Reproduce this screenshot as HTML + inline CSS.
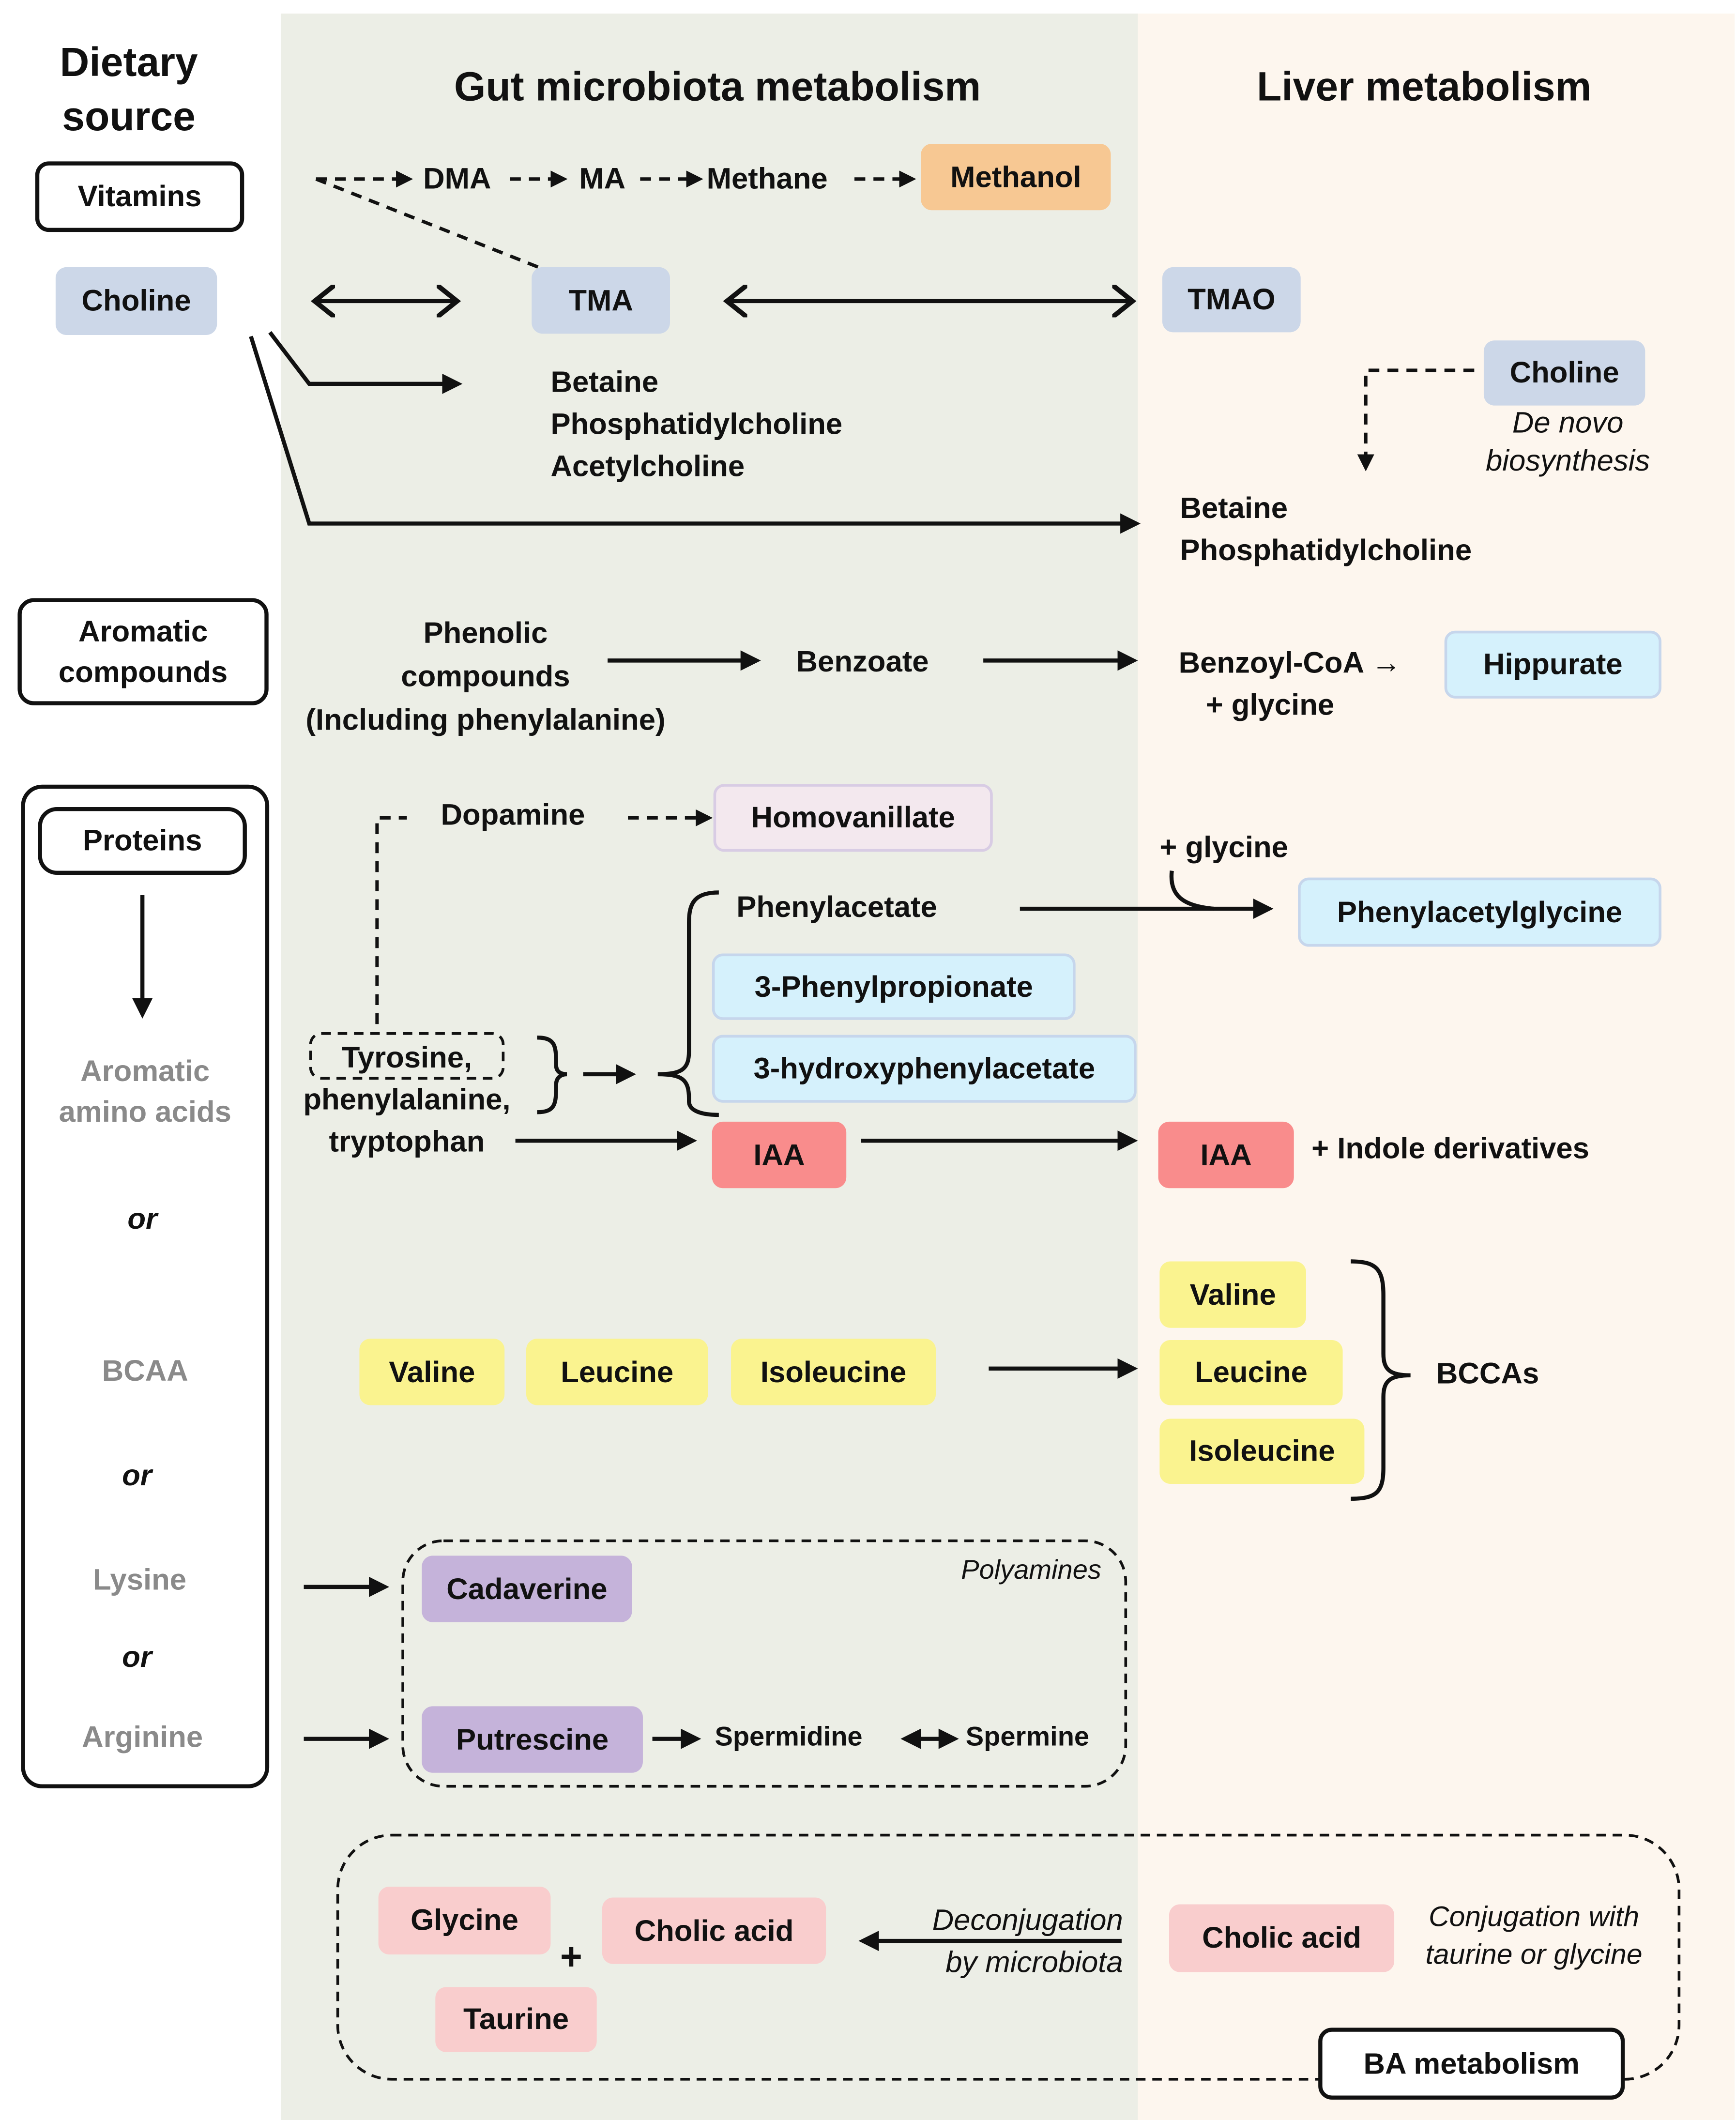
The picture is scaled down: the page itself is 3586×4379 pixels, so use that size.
<!DOCTYPE html>
<html><head><meta charset="utf-8"><style>
html,body{margin:0;padding:0;background:#fff;}
#wrap{width:3586px;height:4379px;overflow:hidden;position:relative;}
#c{position:absolute;left:0;top:0;width:1280px;height:1564px;transform:scale(2.8016);transform-origin:0 0;font-family:"Liberation Sans",sans-serif;font-weight:bold;color:#111;}
.t{position:absolute;font-size:22px;white-space:nowrap;line-height:1;}
.b{position:absolute;border-radius:8px;display:flex;align-items:center;justify-content:center;font-size:22px;white-space:nowrap;box-sizing:border-box;}
.h{position:absolute;font-size:30px;white-space:nowrap;line-height:1;}
.g{color:#8a8a8a;}
.i{font-style:italic;font-weight:normal;}
.blue{background:#ccd7e8;}
.lb{background:#d5f1fc;border:2px solid #c6d6ec;}
.y{background:#faf38f;}
.p{background:#c5b3da;}
.pk{background:#f9cdcd;}
.r{background:#f98c8c;}
svg{position:absolute;left:0;top:0;}
</style></head><body><div id="wrap"><div id="c">
<div style="position:absolute;left:207px;top:10px;width:632px;height:1554px;background:#eceee6"></div>
<div style="position:absolute;left:839px;top:10px;width:440px;height:1554px;background:#fdf6ee"></div>

<svg width="1280" height="1564" viewBox="0 0 1280 1564">
<defs>
<marker id="a" markerWidth="5" markerHeight="5" refX="4" refY="2.5" orient="auto-start-reverse" markerUnits="strokeWidth"><path d="M0,0 L5,2.5 L0,5 z" fill="#111"/></marker>
<marker id="o" markerWidth="6" markerHeight="8" refX="5" refY="4" orient="auto-start-reverse" markerUnits="strokeWidth"><path d="M0,0 L5,4 L0,8" fill="none" stroke="#111" stroke-width="1.2"/></marker>
</defs>
<g stroke="#111" fill="none" stroke-width="3">
<g stroke-dasharray="8,6" stroke-width="2.5">
<path d="M233,132 H302" marker-end="url(#a)"/>
<path d="M376,132 H416" marker-end="url(#a)"/>
<path d="M472,132 H516" marker-end="url(#a)"/>
<path d="M630,132 H673" marker-end="url(#a)"/>
<path d="M233,132 L397,197"/>
<path d="M1087,273 H1007 V345" marker-end="url(#a)"/>
<path d="M278,755 V603 H300"/>
<path d="M463,603 H523" marker-end="url(#a)"/>
</g>
<path d="M232,222 H337" marker-start="url(#o)" marker-end="url(#o)"/>
<path d="M536,222 H835" marker-start="url(#o)" marker-end="url(#o)"/>
<path d="M199,245 L228,283 H338" marker-end="url(#a)"/>
<path d="M185,248 L228,386 H838" marker-end="url(#a)"/>
<path d="M448,487 H558" marker-end="url(#a)"/>
<path d="M725,487 H836" marker-end="url(#a)"/>
<path d="M105,660 V748" marker-end="url(#a)"/>
<path d="M430,792 H466" marker-end="url(#a)"/>
<path d="M752,670 H936" marker-end="url(#a)"/>
<path d="M864,642 C862,660 872,668 895,670"/>
<path d="M380,841 H511" marker-end="url(#a)"/>
<path d="M635,841 H836" marker-end="url(#a)"/>
<path d="M729,1009 H836" marker-end="url(#a)"/>
<path d="M224,1170 H284" marker-end="url(#a)"/>
<path d="M224,1282 H284" marker-end="url(#a)"/>
<path d="M481,1282 H514" marker-end="url(#a)"/>
<path d="M667,1282 H704" marker-start="url(#a)" marker-end="url(#a)"/>
<path d="M827,1431 H636" marker-end="url(#a)"/>
<path d="M396,765 C410,765 410,772 410,785 C410,790 413,792 418,792 C413,792 410,795 410,800 C410,813 410,820 396,820"/>
<path d="M530,658 C512,658 508,666 508,680 V775 C508,788 503,792 485,792 C503,792 508,796 508,810 V812 C508,818 515,822 530,822"/>
<path d="M996,930 C1015,930 1020,936 1020,955 V998 C1020,1010 1025,1014 1040,1014 C1025,1014 1020,1018 1020,1030 V1082 C1020,1100 1015,1105 996,1105"/>
<g stroke-width="2" stroke-dasharray="7,5">
<rect x="229" y="762" width="142" height="33" rx="8"/>
<rect x="297" y="1136" width="533" height="181" rx="30"/>
<rect x="249" y="1353" width="989" height="180" rx="40"/>
</g>
<rect x="17" y="580" width="180" height="737" rx="14"/>
</g>
</svg>

<div class="h" style="left:0;width:190px;top:27px;text-align:center;line-height:40px">Dietary<br>source</div>
<div class="h" style="left:264px;width:530px;top:50px;text-align:center">Gut microbiota metabolism</div>
<div class="h" style="left:880px;width:340px;top:50px;text-align:center">Liver metabolism</div>

<div class="b" style="left:26px;top:119px;width:154px;height:52px;border:3px solid #111;border-radius:10px;background:#fff">Vitamins</div>
<div class="b blue" style="left:41px;top:197px;width:119px;height:50px">Choline</div>
<div class="t" style="left:312px;top:121px">DMA</div>
<div class="t" style="left:427px;top:121px">MA</div>
<div class="t" style="left:521px;top:121px">Methane</div>
<div class="b" style="left:679px;top:106px;width:140px;height:49px;background:#f7c893">Methanol</div>
<div class="b blue" style="left:392px;top:197px;width:102px;height:49px">TMA</div>
<div class="b blue" style="left:857px;top:197px;width:102px;height:48px">TMAO</div>
<div class="b blue" style="left:1094px;top:251px;width:119px;height:48px">Choline</div>
<div class="t i" style="left:1080px;width:152px;text-align:center;top:298px;line-height:28px;white-space:normal">De novo<br>biosynthesis</div>
<div class="t" style="left:406px;top:266px;line-height:31px">Betaine<br>Phosphatidylcholine<br>Acetylcholine</div>
<div class="t" style="left:870px;top:359px;line-height:31px">Betaine<br>Phosphatidylcholine</div>

<div class="b" style="left:13px;top:441px;width:185px;height:79px;border:3px solid #111;border-radius:12px;background:#fff;line-height:30px;text-align:center;white-space:normal">Aromatic<br>compounds</div>
<div class="t" style="left:200px;width:316px;text-align:center;top:451px;line-height:32px">Phenolic<br>compounds<br>(Including phenylalanine)</div>
<div class="t" style="left:587px;top:477px">Benzoate</div>
<div class="t" style="left:869px;top:478px">Benzoyl-CoA →</div>
<div class="t" style="left:889px;top:509px">+ glycine</div>
<div class="b lb" style="left:1065px;top:465px;width:160px;height:50px">Hippurate</div>

<div class="b" style="left:28px;top:595px;width:154px;height:50px;border:3px solid #111;border-radius:14px;background:#fff">Proteins</div>
<div class="t g" style="left:17px;width:180px;text-align:center;top:775px;line-height:30px">Aromatic<br>amino acids</div>
<div class="t i" style="left:17px;width:176px;text-align:center;top:888px;font-weight:bold">or</div>
<div class="t g" style="left:17px;width:180px;text-align:center;top:1000px">BCAA</div>
<div class="t i" style="left:17px;width:168px;text-align:center;top:1077px;font-weight:bold">or</div>
<div class="t g" style="left:17px;width:172px;text-align:center;top:1154px">Lysine</div>
<div class="t i" style="left:17px;width:168px;text-align:center;top:1211px;font-weight:bold">or</div>
<div class="t g" style="left:17px;width:176px;text-align:center;top:1270px">Arginine</div>

<div class="t" style="left:325px;top:590px">Dopamine</div>
<div class="b" style="left:526px;top:578px;width:206px;height:50px;background:#f3e8ee;border:2px solid #d8cce4">Homovanillate</div>
<div class="t" style="left:543px;top:658px">Phenylacetate</div>
<div class="t" style="left:855px;top:614px">+ glycine</div>
<div class="b lb" style="left:957px;top:647px;width:268px;height:51px">Phenylacetylglycine</div>
<div class="b lb" style="left:525px;top:703px;width:268px;height:49px">3-Phenylpropionate</div>
<div class="b lb" style="left:525px;top:763px;width:313px;height:50px">3-hydroxyphenylacetate</div>
<div class="t" style="left:200px;width:200px;text-align:center;top:764px;line-height:31px">Tyrosine,<br>phenylalanine,<br>tryptophan</div>
<div class="b r" style="left:525px;top:827px;width:99px;height:49px">IAA</div>
<div class="b r" style="left:854px;top:827px;width:100px;height:49px">IAA</div>
<div class="t" style="left:967px;top:836px">+ Indole derivatives</div>

<div class="b y" style="left:265px;top:987px;width:107px;height:49px">Valine</div>
<div class="b y" style="left:388px;top:987px;width:134px;height:49px">Leucine</div>
<div class="b y" style="left:539px;top:987px;width:151px;height:49px">Isoleucine</div>
<div class="b y" style="left:855px;top:930px;width:108px;height:49px">Valine</div>
<div class="b y" style="left:855px;top:988px;width:135px;height:48px">Leucine</div>
<div class="b y" style="left:855px;top:1046px;width:151px;height:48px">Isoleucine</div>
<div class="t" style="left:1059px;top:1002px">BCCAs</div>

<div class="t i" style="left:650px;width:162px;text-align:right;top:1148px;font-size:20px">Polyamines</div>
<div class="b p" style="left:311px;top:1147px;width:155px;height:49px">Cadaverine</div>
<div class="b p" style="left:311px;top:1258px;width:163px;height:49px">Putrescine</div>
<div class="t" style="left:527px;top:1271px;font-size:20px">Spermidine</div>
<div class="t" style="left:712px;top:1271px;font-size:20px">Spermine</div>

<div class="b pk" style="left:279px;top:1391px;width:127px;height:50px">Glycine</div>
<div class="b pk" style="left:444px;top:1399px;width:165px;height:49px">Cholic acid</div>
<div class="t" style="left:413px;top:1429px;font-size:28px">+</div>
<div class="b pk" style="left:321px;top:1465px;width:119px;height:48px">Taurine</div>
<div class="t i" style="left:648px;width:180px;text-align:right;top:1400px;line-height:31px">Deconjugation<br>by microbiota</div>
<div class="b pk" style="left:862px;top:1404px;width:166px;height:50px">Cholic acid</div>
<div class="t i" style="left:1036px;width:190px;text-align:center;top:1400px;line-height:28px;font-size:21px">Conjugation with<br>taurine or glycine</div>
<div class="b" style="left:972px;top:1495px;width:226px;height:53px;border:3px solid #111;border-radius:10px;background:#fff">BA metabolism</div>
</div></div></body></html>
